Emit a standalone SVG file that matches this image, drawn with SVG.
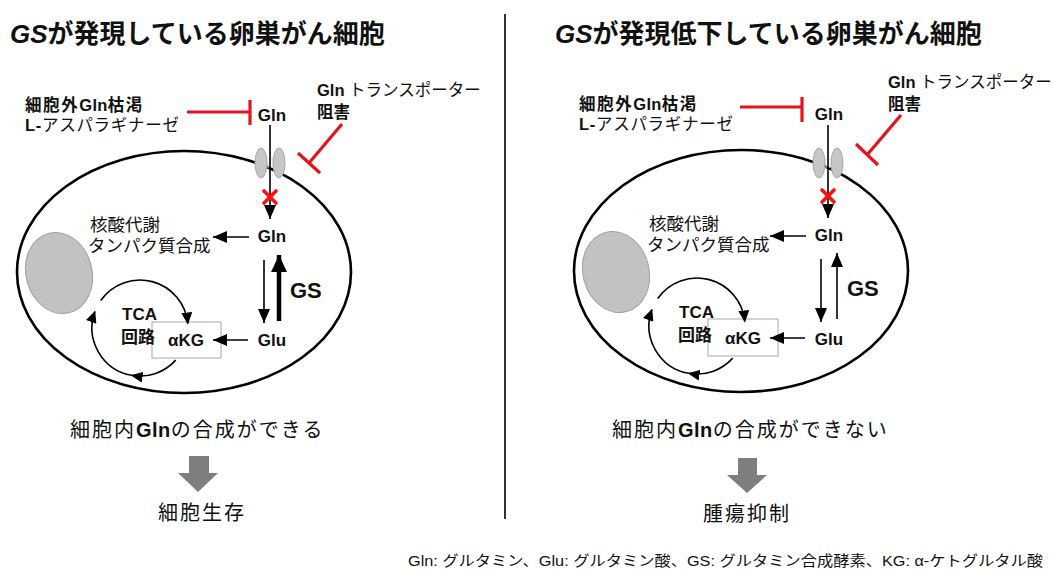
<svg xmlns="http://www.w3.org/2000/svg" width="1053" height="570" viewBox="0 0 1053 570">
  <style>
    text { font-family: 'Liberation Sans', 'Noto Sans CJK JP', sans-serif; fill: #111; }
    .title { font-size: 26px; font-weight: bold; }
    .lbl { font-size: 16.5px; }
    .in { font-size: 17px; }
    .syn { font-size: 17.5px; }
    .res { font-size: 20px; letter-spacing: 2px; }
    .b { font-weight: bold; }
    .mem { fill: none; stroke: #000; stroke-width: 2.6; }
    .nuc { fill: #c2c2c2; stroke: #a0a0a0; stroke-width: 1; }
    .tp { fill: #c6c6c6; stroke: #a8a8a8; stroke-width: 1; }
    .tpl { stroke: #dcdcdc; stroke-width: 1; }
    .inh { stroke: #e3141b; stroke-width: 3.2; fill: none; }
    .x { stroke: #ff1010; stroke-width: 3.6; stroke-linecap: round; }
    .arr { stroke: #000; stroke-width: 1.6; fill: none; }
    .thick { stroke: #000; stroke-width: 4.5; fill: none; }
    .box { fill: #fff; stroke: #a8a8a8; stroke-width: 1; }
    .big { fill: #7f7f7f; }
  </style>
  <defs>
    <marker id="ah" markerUnits="userSpaceOnUse" viewBox="0 0 14 12" refX="14" refY="6" markerWidth="14" markerHeight="12" orient="auto">
      <path d="M0,0 L14,6 L0,12 z" fill="#000"/>
    </marker>
    <marker id="ahBig" markerUnits="userSpaceOnUse" viewBox="0 0 17 16" refX="17" refY="8" markerWidth="17" markerHeight="16" orient="auto">
      <path d="M0,0 L17,8 L0,16 z" fill="#000"/>
    </marker>
    <marker id="ahArc" markerUnits="userSpaceOnUse" viewBox="0 0 12 11" refX="11" refY="5.5" markerWidth="12" markerHeight="11" orient="auto">
      <path d="M0,0 L12,5.5 L0,11 z" fill="#000"/>
    </marker>
  </defs>

  <!-- divider between the two cases -->
  <line x1="505" y1="14" x2="505" y2="519" stroke="#333" stroke-width="2"/>

  <!-- ===== left case: GS expressed ===== -->
  <g id="left-case">
    <text id="title-left" class="title" x="10" y="43"><tspan font-style="italic">GS</tspan>が発現している卵巣がん細胞</text>

    <g id="cell-left">
      <ellipse class="mem" cx="184" cy="272" rx="167" ry="121"/>
      <ellipse class="nuc" cx="59" cy="273" rx="33" ry="41" transform="rotate(-15 59 273)"/>
    </g>

    <g id="transporter-left">
      <line class="tpl" x1="263" y1="159" x2="277" y2="159"/>
      <line class="tpl" x1="263" y1="167" x2="277" y2="167"/>
      <ellipse class="tp" cx="261" cy="163" rx="6" ry="15"/>
      <ellipse class="tp" cx="279" cy="163" rx="6" ry="15"/>
    </g>

    <g id="gln-out-left"><text class="in b" x="272" y="121" text-anchor="middle">Gln</text></g>
    <g id="depletion-left">
      <text class="lbl b" x="25" y="111" letter-spacing="1.6">細胞外<tspan letter-spacing="0.3">Gln</tspan>枯渇</text>
      <text class="lbl" x="25" y="131" letter-spacing="0.7"><tspan class="b">L-</tspan>アスパラギナーゼ</text>
    </g>
    <g id="inhibitor-left">
      <text class="lbl" x="317" y="96"><tspan class="b">Gln</tspan> トランスポーター</text>
      <text class="lbl b" x="317" y="118">阻害</text>
    </g>
    <g id="gln-in-left"><text class="in b" x="272" y="242" text-anchor="middle">Gln</text></g>
    <g id="glu-left"><text class="in b" x="272" y="346" text-anchor="middle">Glu</text></g>
    <g id="gs-left"><text class="b" x="290" y="298" font-size="22">GS</text></g>
    <g id="synth-left">
      <text class="syn" x="90" y="231">核酸代謝</text>
      <text class="syn" x="88" y="252">タンパク質合成</text>
    </g>
    <g id="akg-left">
      <rect class="box" x="152" y="322" width="69" height="36"/>
      <text class="in b" x="186" y="346" text-anchor="middle">αKG</text>
    </g>
    <g id="tca-left">
      <text class="in b" x="122" y="320">TCA</text>
      <text class="in b" x="121" y="343">回路</text>
    </g>

    <g id="connectors-left">
      <line class="inh" x1="187" y1="112" x2="250" y2="112"/>
      <line class="inh" x1="250" y1="100" x2="250" y2="125"/>
      <line class="inh" x1="342" y1="124" x2="309" y2="163"/>
      <line class="inh" x1="298" y1="153" x2="320" y2="173"/>
      <line class="arr" x1="270" y1="125" x2="270" y2="219" marker-end="url(#ah)"/>
      <line class="x" x1="264" y1="191" x2="276" y2="203"/>
      <line class="x" x1="276" y1="191" x2="264" y2="203"/>
      <line class="arr" x1="249" y1="237" x2="213" y2="237" marker-end="url(#ah)"/>
      <line class="arr" x1="264" y1="260" x2="264" y2="323" marker-end="url(#ah)"/>
      <line class="thick" x1="279" y1="321" x2="279" y2="255" marker-end="url(#ahBig)"/>
      <line class="arr" x1="248" y1="340" x2="213" y2="340" marker-end="url(#ah)"/>
      <path class="arr" d="M100.7,300.5 A48,48 0 0 1 187.8,323.5" marker-end="url(#ahArc)"/>
      <path class="arr" d="M175.7,360.1 A48,48 0 0 1 131.7,375.3" marker-end="url(#ahArc)"/>
      <path class="arr" d="M131.7,375.3 A48,48 0 0 1 94.9,311.6" marker-end="url(#ahArc)"/>
    </g>

    <g id="result-left">
      <text class="res" x="70" y="437">細胞内<tspan class="b" letter-spacing="0.5">Gln</tspan>の合成ができる</text>
      <polygon class="big" points="189,456 209,456 209,473 218,473 198,492 178,473 189,473"/>
      <text class="res" x="158" y="520" letter-spacing="3">細胞生存</text>
    </g>
  </g>

  <!-- ===== right case: GS reduced ===== -->
  <g id="right-case">
    <text id="title-right" class="title" x="555" y="43"><tspan font-style="italic">GS</tspan>が発現低下している卵巣がん細胞</text>
  </g>
  <g id="right-cell" transform="translate(557,0)">
    <g id="cell-right">
      <ellipse class="mem" cx="184" cy="271" rx="167" ry="121"/>
      <ellipse class="nuc" cx="59" cy="272" rx="33" ry="41" transform="rotate(-15 59 272)"/>
    </g>

    <g id="transporter-right">
      <line class="tpl" x1="263" y1="159" x2="277" y2="159"/>
      <line class="tpl" x1="263" y1="167" x2="277" y2="167"/>
      <ellipse class="tp" cx="262" cy="163" rx="6" ry="15"/>
      <ellipse class="tp" cx="280" cy="163" rx="6" ry="15"/>
    </g>

    <g id="gln-out-right"><text class="in b" x="272" y="120" text-anchor="middle">Gln</text></g>
    <g id="depletion-right">
      <text class="lbl b" x="22" y="110" letter-spacing="1.6">細胞外<tspan letter-spacing="0.3">Gln</tspan>枯渇</text>
      <text class="lbl" x="22" y="130" letter-spacing="0.7"><tspan class="b">L-</tspan>アスパラギナーゼ</text>
    </g>
    <g id="inhibitor-right">
      <text class="lbl" x="331" y="88"><tspan class="b">Gln</tspan> トランスポーター</text>
      <text class="lbl b" x="331" y="110">阻害</text>
    </g>
    <g id="gln-in-right"><text class="in b" x="272" y="241" text-anchor="middle">Gln</text></g>
    <g id="glu-right"><text class="in b" x="272" y="345" text-anchor="middle">Glu</text></g>
    <g id="gs-right"><text class="b" x="290" y="296" font-size="22">GS</text></g>
    <g id="synth-right">
      <text class="syn" x="92" y="230">核酸代謝</text>
      <text class="syn" x="90" y="251">タンパク質合成</text>
    </g>
    <g id="akg-right">
      <rect class="box" x="151" y="319" width="70" height="37"/>
      <text class="in b" x="186" y="344" text-anchor="middle">αKG</text>
    </g>
    <g id="tca-right">
      <text class="in b" x="122" y="318">TCA</text>
      <text class="in b" x="121" y="341">回路</text>
    </g>

    <g id="connectors-right">
      <line class="inh" x1="183" y1="107" x2="245" y2="107"/>
      <line class="inh" x1="245" y1="97" x2="245" y2="122"/>
      <line class="inh" x1="344" y1="115" x2="310" y2="155"/>
      <line class="inh" x1="299" y1="144" x2="321" y2="165"/>
      <line class="arr" x1="271" y1="125" x2="271" y2="218" marker-end="url(#ah)"/>
      <line class="x" x1="265" y1="190" x2="277" y2="202"/>
      <line class="x" x1="277" y1="190" x2="265" y2="202"/>
      <line class="arr" x1="249" y1="236" x2="213" y2="236" marker-end="url(#ah)"/>
      <line class="arr" x1="264" y1="259" x2="264" y2="322" marker-end="url(#ah)"/>
      <line class="arr" x1="280" y1="319" x2="280" y2="253" marker-end="url(#ah)"/>
      <line class="arr" x1="248" y1="338" x2="213" y2="338" marker-end="url(#ah)"/>
      <path class="arr" d="M100.7,298.5 A48,48 0 0 1 187.8,321.5" marker-end="url(#ahArc)"/>
      <path class="arr" d="M175.7,358.1 A48,48 0 0 1 131.7,373.3" marker-end="url(#ahArc)"/>
      <path class="arr" d="M131.7,373.3 A48,48 0 0 1 94.9,309.6" marker-end="url(#ahArc)"/>
    </g>
  </g>

  <g id="result-right">
    <text class="res" x="612" y="437">細胞内<tspan class="b" letter-spacing="0.5">Gln</tspan>の合成ができない</text>
    <polygon class="big" points="738,458 757,458 757,475 767,475 747,493 727,475 738,475"/>
    <text class="res" x="703" y="521" letter-spacing="2.5">腫瘍抑制</text>
  </g>

  <!-- abbreviations -->
  <g id="legend">
    <text x="408" y="566" font-size="14.5" fill="#222" textLength="635" lengthAdjust="spacingAndGlyphs">Gln: グルタミン、Glu: グルタミン酸、GS: グルタミン合成酵素、KG: α-ケトグルタル酸</text>
  </g>
</svg>
